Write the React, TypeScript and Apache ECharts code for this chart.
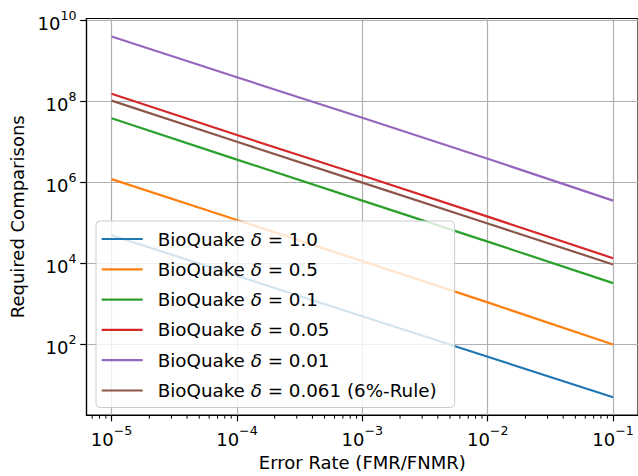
import React, { useEffect, useRef } from 'react';
import * as echarts from 'echarts';

// Error rate (FMR/FNMR) sample points
const errorRates = [1e-5, 1e-4, 1e-3, 1e-2, 1e-1];

const deltaLabels = ['1.0', '0.5', '0.1', '0.05', '0.01', '0.061 (6%-Rule)'];
const seriesNames = deltaLabels.map((d) => 'BioQuake δ = ' + d);

// Required comparisons per series
const delta10 = [5.0e4, 5.0e3, 5.0e2, 50, 5.0];
const delta05 = [1.22e6, 1.2e5, 1.15e4, 1.1e3, 100];
const delta01 = [3.9e7, 3.7e6, 3.6e5, 3.5e4, 3.3e3];
const delta005 = [1.57e8, 1.5e7, 1.5e6, 1.45e5, 1.36e4];
const delta001 = [4.07e9, 4.0e8, 4.0e7, 3.9e6, 3.6e5];
const delta0061 = [1.06e8, 1.02e7, 1.0e6, 9.8e4, 9.5e3];
const seriesValues = [delta10, delta05, delta01, delta005, delta001, delta0061];

const colors = ['#1f77b4', '#ff7f0e', '#2ca02c', '#d62728', '#9467bd', '#8c564b'];

// axis ranges
const xMin = 6.31e-6;
const xMax = 0.158;
const yMin = 1.81;
const yMax = 1.135e10;

const xMajorTicks = [1e-5, 1e-4, 1e-3, 1e-2, 1e-1];
const yMajorTicks = [1e2, 1e4, 1e6, 1e8, 1e10];
const xMinorTicks = [
  7e-6, 8e-6, 9e-6,
  2e-5, 3e-5, 4e-5, 5e-5, 6e-5, 7e-5, 8e-5, 9e-5,
  2e-4, 3e-4, 4e-4, 5e-4, 6e-4, 7e-4, 8e-4, 9e-4,
  2e-3, 3e-3, 4e-3, 5e-3, 6e-3, 7e-3, 8e-3, 9e-3,
  2e-2, 3e-2, 4e-2, 5e-2, 6e-2, 7e-2, 8e-2, 9e-2,
];

const FONT = 'DejaVu Sans';

const powLabel = (value: number) => {
  const l = Math.log10(value);
  const e = Math.round(l);
  if (Math.abs(l - e) > 1e-6) return '';
  const es = e < 0 ? '\u2212' + String(-e) : String(e);
  return '{b|10}{s|' + es + '}';
};

const labelRich = {
  b: { fontFamily: FONT, fontSize: 18, color: '#000', lineHeight: 24, verticalAlign: 'bottom' },
  s: { fontFamily: FONT, fontSize: 12.6, color: '#000', lineHeight: 12, verticalAlign: 'top' },
};

export default function App() {
  const ref = useRef<HTMLDivElement>(null);
  useEffect(() => {
    if (!ref.current) return;
    const chart = echarts.init(ref.current, null, { renderer: 'svg' });
    const lineSeries = seriesNames.map((name, i) => ({
      type: 'line',
      name,
      data: errorRates.map((x, j) => [x, seriesValues[i][j]]),
      symbol: 'none',
      showSymbol: false,
      lineStyle: { color: colors[i], width: 2.2 },
      itemStyle: { color: colors[i] },
      z: 2,
    }));
    const option: any = {
      animation: false,
      backgroundColor: '#fff',
      grid: {
        left: 86.5,
        right: -3.5,
        top: 18.5,
        bottom: 58,
        show: true,
        borderColor: '#000',
        borderWidth: 1.2,
        backgroundColor: 'transparent',
      },
      xAxis: {
        type: 'log',
        logBase: 10,
        min: xMin,
        max: xMax,
        name: 'Error Rate (FMR/FNMR)',
        nameLocation: 'middle',
        nameGap: 37,
        nameTextStyle: { fontFamily: FONT, fontSize: 18, color: '#000' },
        axisLine: { show: true, lineStyle: { color: '#000', width: 1.2 } },
        axisTick: { show: true, inside: false, length: 6.3, customValues: xMajorTicks, lineStyle: { color: '#000', width: 1.2 } },
        axisLabel: { formatter: powLabel, rich: labelRich, margin: 9, customValues: xMajorTicks },
        splitLine: { show: true, lineStyle: { color: '#b0b0b0', width: 1.2 } },
        minorTick: { show: false },
      },
      yAxis: {
        type: 'log',
        logBase: 10,
        min: yMin,
        max: yMax,
        name: 'Required Comparisons',
        nameLocation: 'middle',
        nameRotate: 90,
        nameGap: 60,
        nameTextStyle: { fontFamily: FONT, fontSize: 18, color: '#000' },
        axisLine: { show: true, lineStyle: { color: '#000', width: 1.2 } },
        axisTick: { show: true, inside: false, length: 6.3, customValues: yMajorTicks, lineStyle: { color: '#000', width: 1.2 } },
        axisLabel: { formatter: powLabel, rich: labelRich, margin: 10, customValues: yMajorTicks },
        splitLine: { show: true, lineStyle: { color: '#b0b0b0', width: 1.2 } },
      },
      legend: {
        data: seriesNames,
        orient: 'vertical',
        left: 96,
        top: 221,
        padding: [9, 18, 8, 5.7],
        itemWidth: 41,
        itemHeight: 20,
        itemGap: 12.3,
        icon: 'path://M0,0H41V2.2H0Z',
        backgroundColor: 'rgba(255,255,255,0.8)',
        borderColor: '#cccccc',
        borderWidth: 1,
        borderRadius: 4,
        formatter: (name: string) => {
          const rest = name.replace('BioQuake δ', '');
          return '{f|BioQuake }{d|δ}{n|' + rest + '}';
        },
        textStyle: {
          fontFamily: FONT,
          fontSize: 18.3,
          color: '#000',
          rich: {
            f: { fontFamily: FONT, fontSize: 18.3, color: '#000', lineHeight: 20, padding: [0, 0, 0, 10] },
            d: { fontFamily: FONT, fontSize: 18.3, color: '#000', lineHeight: 20, fontStyle: 'italic' },
            n: { fontFamily: FONT, fontSize: 18.3, color: '#000', lineHeight: 20 },
          },
        },
      },
      series: [
        ...lineSeries,
        {
          type: 'custom',
          name: 'minorTicks',
          silent: true,
          clip: false,
          z: 3,
          data: xMinorTicks.map((v) => [v, yMin]),
          renderItem: (params: any, api: any) => {
            const p = api.coord([api.value(0), api.value(1)]);
            return {
              type: 'line',
              shape: { x1: p[0], y1: p[1], x2: p[0], y2: p[1] + 3.6 },
              style: { stroke: '#000', lineWidth: 1 },
            };
          },
        },
      ],
    };
    chart.setOption(option);
    return () => chart.dispose();
  }, []);
  return (
    <div
      ref={ref}
      style={{ position: 'fixed', left: 0, top: 0, width: 638, height: 476, overflow: 'hidden' }}
    />
  );
}
